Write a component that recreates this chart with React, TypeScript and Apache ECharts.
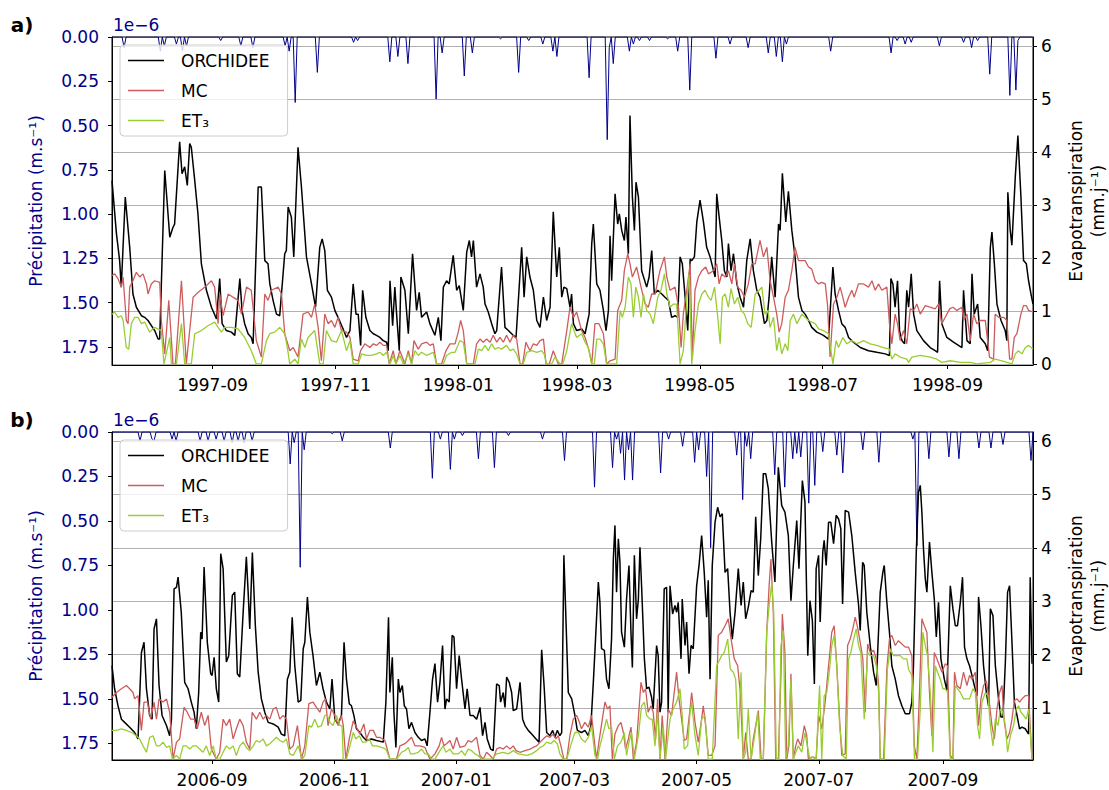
import React, { useEffect, useRef } from 'react';
import * as echarts from 'echarts';

const DAY = 86400000;
const FONT = 'DejaVu Sans';

// Panel a) 1997-1998 ; x = days after start
const startA = '1997-07-13';
const spanA = 457.5;
const tickLabelsA = ['1997-09', '1997-11', '1998-01', '1998-03', '1998-05', '1998-07', '1998-09'];
// Panel b) 2006-2007
const startB = '2006-07-13';
const spanB = 460;
const tickLabelsB = ['2006-09', '2006-11', '2007-01', '2007-03', '2007-05', '2007-07', '2007-09'];

const leftTicks = [0, 0.25, 0.5, 0.75, 1.0, 1.25, 1.5, 1.75];
const rightTicksA = [0, 1, 2, 3, 4, 5, 6];
const rightTicksB = [1, 2, 3, 4, 5, 6];

// Precipitation (x1e-6 m.s-1), [day, value] for rainy days
const precipA = [[5.8,0.06],[23.7,0.08],[26.2,0.05],[32,0.04],[34.5,0.08],[37.4,0.05],[53.5,0.02],[63.5,0.05],[70.1,0.06],[85.8,0.05],[88.3,0.08],[91.1,0.37],[102.4,0.20],[119.8,0.03],[122.3,0.02],[138.1,0.14],[142.2,0.11],[147.2,0.15],[161.2,0.35],[163.7,0.09],[175.3,0.22],[178.6,0.09],[192.7,0.01],[201.8,0.20],[206.8,0.02],[214.3,0.04],[219.2,0.08],[220.9,0.11],[237,0.23],[245.7,0.58],[247.4,0.06],[249.1,0.15],[256.5,0.08],[259,0.04],[261.5,0.02],[267.3,0.02],[276.4,0.01],[281.4,0.08],[287.2,0.30],[300.4,0.12],[307,0.04],[316.1,0.06],[326.1,0.09],[330.2,0.11],[332.7,0.14],[335.2,0.04],[357.1,0.08],[386.9,0.09],[389.5,0.02],[394,0.04],[396.8,0.03],[411.1,0.05],[423,0.03],[427.2,0.06],[429.6,0.02],[435.9,0.21],[445.9,0.33],[449,0.30],[450.3,0.02]];

const orchideeA = [[0,3.46],[2.2,2.46],[3.8,1.95],[4.6,1.45],[6.6,3.15],[8.8,2.20],[10.4,1.32],[12.1,1.07],[14.6,0.91],[16.2,0.88],[17.9,0.82],[21.2,0.63],[22.9,0.47],[23.7,0.47],[26.2,3.65],[28.7,2.39],[30.3,2.58],[31.1,2.64],[33.6,4.19],[34.8,3.59],[36.1,3.72],[37.4,3.37],[38.6,4.16],[39.4,4.09],[41.1,3.46],[42.7,2.83],[44.4,1.89],[46.9,1.39],[49.4,1.07],[51.9,0.85],[53.5,1.61],[54.7,0.76],[56.8,0.63],[59.3,0.60],[61.0,0.54],[63.5,1.61],[64.6,1.01],[65.9,0.76],[67.6,0.57],[69.2,0.50],[70.1,0.38],[72.6,3.34],[74.2,3.34],[75.9,1.95],[77.5,1.89],[78.4,1.51],[80.0,1.20],[81.7,0.94],[83.3,0.91],[85.8,2.08],[86.6,2.14],[87.5,2.96],[89.1,2.77],[90.3,2.02],[92.4,4.09],[94.1,3.34],[96.6,2.02],[99.1,1.51],[101.1,1.07],[103.2,2.20],[104.4,2.36],[105.7,2.14],[107.0,1.39],[109.0,1.26],[110.7,1.01],[112.3,0.88],[114.8,0.66],
[116.5,0.50],[118.2,0.63],[119.8,1.51],[121.2,0.94],[122.3,0.94],[123.5,0.35],[124.5,1.39],[126.1,0.88],[128.1,0.63],[129.8,0.57],[131.4,0.54],[133.1,0.50],[134.7,0.44],[136.4,0.41],[137.2,0.25],[138.1,1.57],[139.4,0.72],[140.5,1.45],[141.7,0.76],[142.7,0.25],[143.5,1.64],[145.5,1.39],[147.2,0.57],[149.3,2.08],[151.3,1.01],[152.6,1.35],[153.8,0.88],[156.3,0.98],[157.9,0.76],[160.4,0.54],[162.1,0.88],[163.4,0.44],[164.6,1.45],[166.2,1.57],[167.5,1.51],[169.5,2.05],[171.2,1.39],[172.5,1.48],[174.5,1.01],[176.2,2.11],[177.5,2.33],[178.6,2.02],[179.5,2.33],[181.1,1.45],[182.8,1.70],[184.4,1.45],[185.3,1.13],[186.9,0.98],[188.6,0.76],[190.2,0.57],[191.1,0.63],[193.5,1.83],[195.2,0.69],[196.9,0.63],[199.3,0.54],[200.7,0.50],[203.5,2.20],[204.7,1.26],[206.0,2.02],[207.6,1.64],[209.3,1.39],[211.0,0.82],[212.6,0.69],[214.3,1.26],[215.9,0.82],[217.6,1.07],[219.2,2.87],[220.9,1.64],[222.2,2.20],[223.4,1.26],[224.5,1.45],[225.9,1.42],[227.5,1.07],[228.3,1.32],[229.2,0.76],[230.8,0.63],
[233.3,0.66],[235.0,0.57],[237.0,0.94],[238.3,2.27],[239.1,2.64],[240.8,1.51],[242.4,1.39],[244.1,1.01],[245.4,0.63],[246.6,1.01],[247.4,2.42],[248.2,1.57],[249.9,3.21],[251.2,2.64],[252.0,2.83],[253.2,2.52],[254.5,2.33],[255.3,2.77],[256.5,2.08],[257.3,4.69],[258.5,3.15],[259.5,2.52],[260.3,3.43],[261.5,3.15],[263.1,1.76],[265.6,1.45],[266.8,1.64],[268.1,2.14],[269.4,1.32],[271.1,1.39],[273.1,1.32],[274.7,1.26],[276.4,1.20],[278.0,0.88],[279.7,0.91],[281.0,0.88],[282.2,2.02],[283.3,1.89],[284.7,1.26],[286.0,0.63],[287.2,1.98],[288.0,1.95],[289.3,2.02],[290.5,2.68],[292.1,3.09],[293.8,2.68],[295.4,2.20],[297.1,2.02],[298.8,1.76],[299.6,1.64],[300.4,3.21],[301.6,2.77],[302.9,2.33],[304.2,1.76],[305.4,1.64],[306.2,2.27],[307.5,1.76],[308.7,2.08],[310.4,1.51],[312.0,1.26],[313.7,1.07],[315.3,1.95],[317.0,2.36],[318.6,1.76],[320.3,1.39],[321.9,1.26],[324.1,0.76],[325.3,0.82],[326.4,1.26],[327.7,2.02],[329.4,1.26],[331.1,2.64],[331.9,2.52],[333.0,3.60],[334.7,2.68],[336.0,3.26],[337.7,2.52],[339.3,2.02],[341.0,1.26],[342.7,1.01],[344.3,0.94],[346.0,0.82],[347.6,0.69],
[350.1,0.60],[353.4,0.54],[355.9,0.47],[358.1,1.83],[359.2,1.32],[360.9,1.01],[362.5,0.76],[364.2,0.69],[365.9,0.50],[368.3,0.41],[371.7,0.31],[375.8,0.25],[379.9,0.22],[384.1,0.19],[386.2,0.16],[386.9,1.61],[387.9,1.51],[389.0,1.07],[390.2,1.57],[391.2,0.63],[392.4,0.44],[393.7,0.38],[394.8,1.39],[395.7,1.07],[397.0,1.70],[398.2,0.94],[399.8,0.63],[403.1,0.44],[406.4,0.31],[408.9,0.25],[410.1,0.22],[411.1,1.57],[412.2,0.76],[414.7,0.50],[418.0,0.41],[422.2,0.31],[423.0,1.39],[423.8,0.94],[424.7,0.44],[426.3,0.38],[427.2,1.70],[428.3,0.94],[430.0,1.13],[431.3,0.50],[433.8,0.38],[435.0,0.25],[436.3,2.20],[437.1,2.49],[438.3,1.89],[439.6,1.13],[441.6,0.82],[443.7,0.63],[444.5,0.44],[445.0,3.24],[446.2,2.52],[447.0,2.24],[448.7,3.53],[450.0,4.31],[451.5,3.15],[452.8,1.95],[454.2,1.89],[455.3,1.57],[456.5,1.32],[457.5,1.13]];

const mcA = [[0,1.67],[1.3,1.70],[3.0,1.61],[4.6,1.45],[5.5,1.64],[7.1,0.82],[8.0,0.76],[8.8,1.45],[10.4,1.57],[12.1,1.73],[13.8,1.64],[15.4,1.70],[17.1,1.51],[17.9,1.32],[19.5,1.51],[21.2,1.57],[23.7,1.54],[24.5,0.82],[26.2,0.19],[28.2,1.20],[30.3,0],[31.5,0],[34.5,1.57],[36.9,0],[39.1,0.82],[40.3,1.26],[42.7,1.35],[46.1,1.45],[49.4,1.57],[51.0,1.45],[52.7,0.76],[53.5,1.32],[55.2,0.91],[57.7,1.32],[60.1,1.26],[62.6,1.20],[64.3,0.94],[66.8,1.45],[69.2,1.39],[71.7,0.44],[74.2,0.13],[75.9,1.32],[77.5,1.20],[79.2,1.39],[82.5,1.45],[84.2,1.32],[85.8,0.57],[88.3,0.25],[90.0,0.31],[92.4,0.13],[94.9,0.94],[97.4,0.98],[99.1,0.88],[100.7,1.13],[102.4,0.69],[104.0,0.06],[105.7,0.94],[107.4,0.76],[109.0,0.82],[110.7,0.69],[112.3,0.88],[114.0,0.63],
[116.5,0.60],[118.2,0.50],[119.8,0.09],[122.3,0.06],[123.5,0.25],[125.6,0.38],[128.1,0.31],[129.8,0.38],[131.4,0.35],[133.1,0.41],[134.7,0.35],[136.4,0.35],[137.7,0],[139.7,0.25],[141.0,0],[143.0,0.25],[145.5,0],[147.2,0.25],[148.8,0],[150.0,0.44],[152.1,0.28],[153.8,0.38],[156.3,0.41],[157.9,0.35],[159.6,0.38],[161.2,0],[163.7,0],[165.9,0.25],[167.9,0.38],[170.4,0.38],[172.0,0.60],[173.2,0.82],[174.5,0.63],[176.2,0],[179.5,0],[181.1,0.38],[182.8,0.47],[184.4,0.41],[186.1,0.47],[187.8,0.41],[189.4,0.54],[191.1,0.41],[192.7,0.50],[194.4,0.41],[196.0,0.54],[197.7,0.41],[199.3,0.54],[201.0,0.47],[202.7,0],[204.0,0],[205.6,0.41],[207.6,0.25],[209.3,0.38],[211.0,0.35],[212.6,0.44],[214.3,0.47],[215.6,0],[217.2,0],[219.2,0.25],[221.7,0],[223.4,0],[225.9,0.63],[227.5,1.07],[229.2,0.88],[230.8,0.98],
[233.3,0.63],[235.0,0.50],[237.0,0.25],[238.3,0],[239.9,0.76],[241.9,0.76],[244.1,0.57],[245.7,0],[247.4,0.06],[249.9,0.09],[251.2,1.01],[253.2,1.20],[254.5,1.76],[256.2,2.08],[257.3,1.89],[258.5,1.64],[260.6,1.83],[262.8,1.45],[264.8,1.13],[266.4,1.07],[268.1,1.32],[269.8,1.32],[272.2,1.76],[274.4,2.02],[275.6,1.64],[277.2,1.39],[279.7,1.45],[281.4,1.07],[282.7,0.31],[283.8,0.94],[285.5,1.39],[287.2,1.89],[288.3,0.13],[289.6,1.39],[291.3,1.64],[293.0,1.76],[294.9,1.83],[296.3,1.70],[298.8,1.76],[300.4,1.89],[301.6,1.51],[302.9,1.70],[304.6,1.64],[306.2,1.76],[307.9,1.51],[309.2,1.89],[310.8,1.45],[312.5,1.39],[314.2,1.26],[316.1,1.51],[317.8,1.89],[319.5,1.89],[321.9,2.33],[323.6,2.02],[325.3,2.20],[326.9,1.57],[328.6,1.26],[330.2,0.94],[331.4,0.60],[332.7,0.76],[334.4,1.26],[336.0,1.39],[337.7,1.76],[339.3,2.20],[341.0,1.95],[344.3,1.95],[346.0,1.83],[347.6,1.79],
[349.3,1.57],[351.0,1.51],[352.6,1.54],[354.3,1.51],[355.4,1.13],[356.7,0.13],[358.4,1.13],[360.1,1.26],[361.7,1.45],[363.0,1.26],[364.2,1.07],[365.9,1.26],[367.5,1.39],[368.7,1.26],[370.8,1.51],[373.3,1.51],[375.8,1.45],[377.5,1.57],[379.1,1.39],[380.8,1.51],[382.4,1.39],[384.9,1.45],[386.2,0.76],[387.4,0.38],[389.0,0.94],[390.2,0.76],[391.5,0.44],[393.2,0.63],[394.8,0.38],[396.5,1.04],[398.2,1.01],[399.8,1.13],[401.5,0.94],[404.0,1.10],[406.4,1.07],[408.9,1.04],[410.6,1.13],[412.2,0.76],[413.9,0.88],[416.1,1.04],[417.7,1.07],[419.7,1.01],[422.2,1.07],[423.0,0.82],[424.7,0.94],[426.3,0.44],[428.0,0.94],[429.6,0.76],[431.3,0.82],[433.8,0.82],[435.9,0.13],[437.9,0.09],[438.7,0.94],[440.4,0.88],[442.9,0.88],[444.5,0.82],[445.9,0.09],[447.0,0.09],[448.2,0.50],[449.5,0.57],[451.5,0.94],[452.8,1.10],[454.2,1.10],[455.3,1.01],[457.5,0.98]];

const et3A = [[0,0.94],[1.3,0.98],[3.0,0.88],[4.6,0.91],[5.5,0.82],[7.1,0.31],[8.3,0.28],[9.6,0.76],[11.3,0.88],[12.9,0.88],[14.6,0.76],[16.2,0.79],[17.9,0.66],[18.7,0.60],[21.2,0.69],[24.5,0.63],[25.8,0],[28.7,0.50],[29.5,0],[32.0,0],[34.5,0.76],[36.1,0],[39.4,0],[41.1,0.57],[44.4,0.63],[47.7,0.72],[51.0,0.79],[52.7,0.69],[54.3,0.60],[56.0,0.69],[59.3,0.69],[62.6,0.66],[65.9,0.50],[69.2,0.25],[71.7,0],[74.2,0],[76.7,0.44],[78.4,0.57],[80.8,0.60],[83.3,0.69],[85.8,0.57],[87.1,0.31],[88.3,0],[90.8,0.09],[92.4,0],[94.1,0.47],[95.8,0.31],[97.4,0.50],[100.7,0.63],[103.2,0],[104.9,0],[106.5,0.63],[109.0,0.44],[111.5,0.41],[114.0,0.63],
[116.5,0.25],[118.2,0.44],[119.8,0],[122.3,0],[124.0,0.19],[126.5,0.16],[128.9,0.16],[131.4,0.19],[133.1,0.22],[134.7,0.16],[136.4,0.22],[138.1,0],[139.7,0.16],[141.0,0],[143.0,0.16],[144.7,0],[147.2,0.19],[148.8,0],[150.5,0.25],[152.1,0.16],[153.8,0.22],[156.3,0.16],[157.9,0.19],[159.6,0.22],[161.2,0],[164.6,0],[166.2,0.16],[168.7,0.22],[170.4,0.22],[172.8,0.44],[174.5,0.41],[176.2,0],[180.3,0],[182.0,0.28],[183.6,0.25],[185.3,0.35],[186.9,0.25],[188.6,0.38],[190.2,0.28],[191.9,0.31],[193.5,0.28],[196.0,0.35],[197.7,0.25],[199.3,0.28],[201.0,0.19],[202.7,0],[204.3,0],[206.0,0.22],[208.5,0.25],[211.0,0.22],[213.4,0.25],[214.6,0.19],[215.9,0],[218.4,0],[220.1,0.13],[222.5,0],[223.9,0],[225.9,0.25],[228.3,0.76],[229.2,0.66],[230.8,0.50],
[233.3,0.57],[235.0,0.41],[236.6,0.31],[238.3,0],[239.6,0],[240.8,0.47],[242.4,0.47],[244.1,0.38],[245.7,0],[250.7,0],[252.4,1.01],[253.5,0.88],[254.9,1.07],[256.5,1.64],[257.8,1.51],[259.0,0.88],[260.2,1.45],[261.5,1.26],[262.8,0.88],[264.0,1.32],[265.6,1.01],[267.3,0.94],[268.9,0.76],[271.1,1.26],[272.7,1.39],[274.4,1.70],[275.6,1.32],[277.2,1.07],[278.9,1.13],[280.5,1.13],[282.2,0],[283.8,0.25],[285.5,1.20],[286.7,1.70],[288.0,0],[289.6,0.63],[291.3,1.13],[293.0,1.32],[294.6,1.39],[296.3,1.26],[297.6,1.20],[299.3,1.45],[300.9,0.88],[302.1,0.38],[303.2,1.26],[304.6,1.32],[306.2,1.07],[307.5,1.42],[309.2,1.13],[310.8,1.26],[312.5,1.01],[314.2,0.94],[315.8,0.76],[317.5,0.69],[319.5,1.32],[321.5,1.39],[322.8,1.45],[324.4,0.94],[325.8,1.01],[326.9,0.69],[328.6,0.88],[330.2,0.25],[331.4,0.50],[332.7,0.19],[334.4,0.38],[335.7,0.25],[336.9,0.82],[338.5,0.94],[340.2,0.76],[342.7,0.94],[344.3,0.88],[346.0,0.82],[347.6,0.79],
[349.3,0.76],[351.0,0.66],[353.4,0.63],[355.9,0.57],[358.1,0],[359.7,0.44],[360.9,0.31],[363.0,0.50],[365.0,0.38],[367.5,0.44],[370.0,0.38],[373.3,0.44],[376.6,0.38],[379.9,0.35],[383.2,0.31],[386.2,0.28],[387.4,0.09],[389.0,0.19],[391.5,0.13],[394.8,0.09],[395.7,0.03],[397.3,0.13],[401.5,0.16],[406.4,0.13],[409.8,0.09],[412.2,0.03],[416.4,0.06],[421.4,0.03],[426.3,0.03],[429.6,0],[436.3,0.03],[438.7,0.09],[442.1,0.06],[444.5,0.03],[447.0,0],[448.7,0.19],[450.3,0.25],[452.0,0.19],[453.7,0.31],[455.3,0.35],[457.5,0.28]];

const precipB = [[13.8,0.05],[19.7,0.04],[21.3,0.05],[29.7,0.04],[32.2,0.05],[43.8,0.05],[48,0.05],[52.1,0.04],[56.3,0.05],[59.6,0.06],[63,0.05],[66.3,0.06],[69.6,0.05],[88.8,0.18],[91.3,0.06],[93.8,0.76],[95.5,0.10],[109.6,0.01],[115.4,0.05],[138.8,0.09],[160.1,0.26],[163.8,0.04],[168.8,0.21],[170.8,0.04],[175.1,0.02],[182.9,0.15],[190.9,0.20],[197.9,0.02],[214.6,0.04],[225.9,0.16],[240.9,0.31],[249.5,0.20],[252,0.04],[253.7,0.12],[255.9,0.27],[257.9,0.10],[259.9,0.27],[273.7,0.23],[277.8,0.04],[284.8,0.08],[290.8,0.17],[292.8,0.10],[297,0.25],[298.7,0.65],[312,0.13],[314.8,0.38],[317,0.08],[318.7,0.15],[331.1,0.24],[335.8,0.31],[340.3,0.15],[342,0.12],[343.6,0.14],[347.8,0.40],[350.8,0.30],[354.5,0.11],[362,0.13],[364.9,0.23],[374.9,0.10],[382.9,0.17],[399.5,0.04],[401.7,0.64],[407.5,0.15],[417.5,0.14],[422.8,0.15],[432.8,0.09],[438.7,0.09],[445.3,0.07],[458.6,0.16]];

const orchideeB = [[0,1.79],[1.3,1.36],[3.0,1.04],[4.7,0.79],[6.3,0.73],[8.8,0.64],[11.3,0.54],[13.0,0.42],[14.7,2.04],[16.0,2.23],[17.2,1.36],[18.8,0.86],[20.0,0.79],[21.0,2.48],[22.2,2.67],[23.5,1.42],[25.0,0.86],[27.2,0.67],[28.8,0.48],[29.7,0.79],[31.0,3.23],[32.2,3.26],[33.0,3.45],[34.6,2.79],[36.3,1.48],[38.0,1.36],[39.6,1.11],[41.0,0.92],[42.1,0.61],[43.3,1.29],[44.3,2.42],[45.0,2.29],[46.0,3.64],[47.6,2.23],[49.3,1.64],[50.0,1.61],[51.0,1.95],[52.1,1.36],[53.3,1.11],[54.3,3.89],[55.5,3.61],[57.1,1.86],[58.3,1.98],[60.1,3.11],[61.3,3.17],[62.6,1.64],[63.8,1.58],[65.5,2.79],[67.1,3.83],[68.0,3.17],[68.8,2.48],[70.1,3.91],[71.6,2.54],[73.0,1.67],[74.6,1.17],[76.3,0.92],[78.0,0.73],[80.5,0.70],[83.0,0.64],[84.6,0.51],[86.3,0.48],[87.6,1.54],[88.8,1.67],[90.0,2.70],[91.3,1.79],[93.0,1.11],[94.3,1.14],[95.5,2.11],[96.3,2.23],[97.6,3.08],[98.8,2.42],[100.4,1.98],[102.1,1.42],[103.8,1.67],[105.4,1.36],[107.1,1.11],[108.8,0.98],[109.9,1.54],[111.3,0.79],[112.9,0.70],[114.6,0.86],[115.9,2.23],
[117.1,1.54],[118.5,1.08],[119.6,1.04],[120.8,0.86],[122.1,0.61],[123.8,0.54],[125.5,0.45],[127.1,0.39],[129.6,0.42],[132.1,0.39],[135.5,0.36],[136.8,1.11],[138.1,2.70],[138.8,1.29],[140.0,1.95],[140.8,0.92],[141.8,0.26],[143.0,1.54],[143.8,1.29],[145.0,1.42],[146.0,1.04],[147.1,0.98],[148.3,0.61],[149.6,0.73],[151.3,0.54],[153.0,0.45],[154.6,0.39],[156.3,0.42],[157.4,0.29],[158.8,0.92],[160.1,1.54],[161.3,1.83],[162.6,1.11],[163.8,1.48],[165.1,2.17],[166.3,0.98],[167.1,1.17],[168.4,1.11],[169.9,2.36],[170.8,2.33],[172.1,1.36],[173.4,1.98],[174.6,1.54],[176.3,0.98],[177.4,1.36],[178.8,0.86],[180.4,0.86],[182.1,0.79],[183.8,1.01],[185.1,0.48],[186.3,0.73],[187.4,0.42],[189.1,0.23],[190.4,0.20],[192.1,1.45],[193.4,1.42],[194.1,1.11],[195.4,1.29],[196.3,1.01],[197.1,1.58],[198.4,1.48],[199.6,1.29],[200.4,0.95],[202.1,0.98],[203.8,1.48],[205.1,0.79],[206.3,0.67],[207.9,0.58],[209.6,0.51],[211.8,0.42],[213.3,0.36],[214.6,2.09],[215.8,1.42],[217.1,0.54],[218.7,0.48],[220.1,0.58],[221.2,0.45],[222.4,0.58],[223.7,0.48],[224.6,0.54],[225.7,3.86],[227.9,1.29],[229.6,1.17],[231.2,0.86],[232.4,0.58],
[234.5,0.54],[236.2,0.58],[237.9,0.48],[239.2,0.67],[240.4,1.48],[241.5,2.29],[242.9,3.36],[243.7,2.98],[244.5,2.11],[245.9,2.08],[247.0,1.54],[248.2,1.36],[249.5,2.29],[250.4,3.79],[251.2,4.42],[252.0,3.17],[252.9,4.17],[253.7,3.73],[254.5,2.42],[255.9,2.14],[257.0,3.04],[258.2,3.67],[259.2,2.42],[259.9,1.76],[260.9,3.86],[262.0,2.67],[262.9,3.04],[263.7,4.01],[264.5,3.29],[265.9,1.92],[267.0,1.36],[268.2,1.39],[269.5,1.20],[270.3,0.98],[272.0,2.17],[272.8,1.98],[273.7,0.92],[274.5,1.11],[275.8,3.23],[277.0,3.26],[277.8,0.92],[278.7,3.29],[280.0,2.76],[281.2,2.92],[282.0,2.79],[282.8,2.98],[284.2,1.92],[284.8,3.04],[286.2,2.17],[287.0,2.61],[288.2,1.64],[289.2,2.17],[290.3,2.11],[292.0,3.29],[293.2,3.67],[294.5,4.23],[295.8,3.54],[297.0,2.70],[297.8,3.39],[298.7,1.54],[299.8,3.67],[301.2,4.48],[302.5,4.76],[303.7,4.58],[304.8,4.64],[306.2,3.54],[307.5,3.61],[308.7,2.79],[309.8,2.29],[311.2,2.79],[312.8,3.61],[314.2,2.92],[315.3,3.36],[316.5,2.67],[317.8,2.89],[319.2,3.20],[320.3,3.17],[321.5,4.58],[322.8,3.48],[324.0,4.17],[325.3,5.39],[326.5,5.39],[327.8,5.11],[329.5,4.11],[331.1,3.36],[332.8,5.51],[334.5,4.79],[336.1,4.67],[337.8,4.23],[339.1,3.01],[340.3,3.67],[342.0,4.51],[343.1,3.61],[344.8,5.26],[346.1,4.86],[347.5,1.98],[348.6,3.01],[349.8,2.64],[350.8,1.45],
[351.7,3.61],[352.9,3.86],[353.7,2.61],[355.0,3.92],[355.7,4.14],[356.7,3.67],[357.9,4.48],[359.0,4.48],[360.4,4.08],[361.7,4.61],[362.9,4.54],[364.0,4.36],[364.9,2.95],[366.2,4.70],[367.9,4.67],[369.5,4.23],[371.2,3.54],[372.9,2.92],[373.7,2.45],[374.9,3.73],[375.7,3.67],[377.0,2.79],[378.7,2.17],[380.4,1.67],[381.7,1.42],[383.7,3.17],[385.0,3.54],[385.7,3.67],[387.0,2.98],[388.3,2.42],[389.5,1.79],[391.2,1.54],[392.8,1.23],[394.5,1.04],[396.2,0.89],[398.3,0.89],[399.5,1.11],[400.3,1.79],[401.7,3.92],[402.8,5.04],[403.7,5.17],[404.5,4.67],[405.3,3.98],[406.2,3.42],[407.0,3.17],[408.3,4.11],[409.5,3.54],[410.7,3.04],[411.7,2.33],[412.8,2.98],[414.0,1.92],[415.7,1.54],[417.0,1.33],[418.7,3.29],[420.0,2.86],[421.2,2.54],[422.3,2.54],[423.7,2.98],[424.8,3.45],[425.8,2.14],[427.0,1.92],[428.3,1.79],[429.5,1.61],[430.7,1.42],[432.0,1.23],[432.8,3.08],[434.0,2.54],[435.3,1.79],[436.7,1.29],[437.8,1.04],[438.7,2.86],[440.0,2.73],[441.2,1.79],[442.8,1.17],[444.0,0.83],[445.0,0.83],[446.2,1.86],[447.3,3.17],[448.3,3.29],[449.5,2.23],[450.7,1.11],[452.0,0.86],[453.3,0.61],[454.5,0.64],[456.1,0.61],[457.8,0.51],[458.6,3.45],[459.5,1.83]];

const mcB = [[0,1.20],[2.2,1.29],[4.7,1.36],[7.2,1.42],[8.8,1.36],[10.5,1.29],[11.3,1.17],[13.0,1.23],[14.7,0.58],[16.0,1.11],[17.7,1.11],[19.3,0.79],[21.0,1.11],[22.2,0.79],[23.5,1.17],[25.5,1.11],[27.2,1.17],[28.8,0.92],[30.5,0.04],[32.2,0.36],[33.8,0.42],[36.0,1.01],[37.6,0.92],[39.3,0.79],[41.0,0.79],[42.6,0.61],[44.6,0.92],[46.3,0.67],[48.0,0.86],[49.6,0.23],[52.1,0.04],[53.8,0.17],[55.5,0.79],[57.1,0.67],[58.8,0.79],[60.5,0.42],[62.1,0.61],[63.8,0.79],[65.5,0.67],[67.1,0.36],[68.8,0.23],[70.0,0.92],[72.1,0.79],[73.8,0.92],[75.5,0.79],[77.1,0.86],[78.8,0.79],[80.5,0.98],[82.1,1.01],[83.8,0.79],[85.5,0.86],[87.1,0.79],[88.8,0.23],[90.5,0.29],[92.6,0.67],[94.6,0.04],[96.3,0.29],[98.3,1.08],[100.4,1.11],[102.1,1.01],[103.8,0.92],[105.4,1.11],[106.6,1.17],[107.9,0.67],[109.6,0.98],[111.3,0.86],[112.9,0.67],[114.6,0.86],
[115.5,0.67],[116.8,0.04],[118.5,0.42],[120.5,0.76],[122.1,0.64],[123.8,0.51],[125.8,0.70],[127.1,0.42],[128.8,0.58],[130.5,0.58],[132.1,0.45],[133.8,0.45],[136.3,0.39],[138.8,0.04],[142.1,0.04],[143.8,0.29],[146.3,0.33],[148.0,0.39],[149.6,0.45],[151.3,0.29],[153.8,0.29],[156.3,0.26],[158.8,0.04],[161.3,0.14],[163.4,0.29],[164.6,0.45],[165.8,0.29],[167.1,0.33],[168.8,0.39],[170.4,0.23],[172.1,0.45],[173.8,0.26],[176.3,0.29],[177.9,0.39],[179.6,0.36],[182.1,0.45],[183.8,0.11],[185.4,0.04],[187.1,0.17],[188.8,0.11],[190.4,0.04],[192.1,0.23],[193.8,0.26],[195.4,0.23],[197.1,0.29],[198.8,0.23],[200.4,0.29],[201.8,0.20],[203.8,0.17],[206.3,0.20],[208.8,0.23],[210.4,0.26],[212.1,0.29],[213.8,0.36],[215.4,0.42],[217.1,0.48],[218.7,0.45],[220.4,0.51],[221.7,0.42],[222.9,0.48],[224.2,0.29],[225.7,0.04],[227.1,0.04],[228.7,0.48],[230.4,0.79],[232.1,0.86],
[232.9,0.79],[234.5,0.61],[236.2,0.73],[237.9,0.64],[239.5,0.86],[241.2,0.29],[242.0,0.04],[243.2,0.36],[244.9,0.79],[246.2,1.11],[247.5,0.98],[248.7,1.04],[249.9,0.04],[251.2,0.51],[252.9,0.67],[254.2,0.73],[255.4,0.54],[256.5,0.23],[257.9,0.42],[259.2,0.64],[260.4,0.04],[262.0,0.36],[264.2,1.48],[265.4,1.29],[266.5,1.36],[267.8,0.92],[269.2,1.04],[270.3,0.92],[271.5,0.42],[272.5,1.17],[273.7,0.04],[274.8,0.86],[276.2,0.04],[277.8,0.98],[279.5,0.86],[280.8,1.29],[282.0,1.67],[283.2,1.17],[284.5,0.79],[285.8,0.39],[287.0,0.42],[288.7,0.98],[289.5,1.29],[291.2,0.73],[292.8,0.36],[294.5,0.79],[295.3,1.04],[296.5,0.67],[297.8,0.11],[299.5,0.11],[301.2,0.29],[302.8,2.36],[304.5,2.42],[306.2,2.54],[307.8,2.67],[309.2,2.29],[310.8,1.92],[312.5,1.79],[313.8,1.29],[315.3,0.04],[316.5,0.54],[317.8,0.04],[319.2,0.04],[320.3,0.42],[321.5,0.67],[322.8,0.95],[324.2,0.04],[325.3,0.04],[327.0,2.42],[328.2,3.29],[329.1,3.79],[330.3,2.79],[331.5,0.04],[332.8,0.04],[334.1,1.61],[334.8,2.76],[336.1,2.04],[337.0,0.04],[338.1,0.29],[339.1,1.64],[340.3,0.04],[341.5,0.29],[342.5,0.42],[344.1,0.29],[345.8,0.67],[347.0,0.48],[347.8,0.04],[349.5,0.08],
[350.4,0.08],[351.7,0.04],[352.9,0.86],[354.5,0.61],[356.2,1.11],[357.9,1.79],[359.5,2.42],[360.7,2.54],[362.0,1.79],[363.4,0.79],[364.5,0.11],[366.2,0.14],[367.4,2.17],[368.7,2.29],[370.0,2.48],[371.2,2.70],[372.4,2.51],[373.7,2.23],[375.0,1.92],[376.2,0.92],[377.4,2.20],[378.7,2.04],[380.4,2.08],[381.7,1.92],[382.9,1.42],[383.7,0.04],[385.4,0.04],[387.0,1.73],[388.3,2.29],[389.5,2.36],[391.2,2.17],[392.8,2.26],[394.5,2.20],[396.2,2.14],[397.8,2.14],[399.5,1.98],[400.7,0.29],[402.0,0.04],[403.3,1.29],[404.5,2.67],[405.7,2.54],[407.0,2.42],[408.3,1.29],[409.5,0.48],[410.7,2.04],[412.0,1.92],[413.3,1.79],[414.5,1.67],[416.2,1.83],[417.3,1.79],[418.7,0.11],[420.0,0.04],[420.8,1.67],[422.0,1.42],[423.7,1.36],[425.3,1.67],[427.0,1.42],[428.3,1.61],[429.5,1.54],[431.2,1.67],[432.8,0.67],[434.0,1.17],[435.3,1.42],[436.7,1.51],[437.8,1.23],[439.5,0.67],[440.7,0.42],[442.0,0.98],[443.3,1.29],[444.5,1.42],[445.7,0.73],[447.0,0.42],[448.3,0.54],[449.5,0.79],[450.7,1.14],[452.0,1.17],[453.3,1.11],[454.5,1.17],[456.1,1.23],[457.8,1.23],[459.5,0.04]];

const et3B = [[0,0.58],[2.2,0.58],[4.7,0.61],[7.2,0.58],[9.7,0.54],[12.2,0.48],[13.8,0.42],[15.5,0.29],[17.2,0.17],[18.8,0.45],[20.5,0.48],[22.2,0.29],[23.8,0.29],[25.5,0.36],[27.2,0.26],[28.8,0.29],[30.2,0.04],[32.2,0.11],[33.8,0.04],[35.5,0.29],[37.1,0.29],[38.8,0.23],[40.5,0.29],[42.1,0.29],[43.8,0.23],[45.5,0.17],[47.1,0.29],[48.8,0.11],[50.5,0.29],[52.1,0.04],[53.8,0.04],[55.5,0.17],[57.1,0.29],[58.8,0.23],[60.5,0.29],[62.1,0.11],[63.8,0.29],[65.5,0.36],[67.1,0.26],[68.8,0.20],[70.5,0.29],[72.1,0.39],[73.8,0.36],[75.5,0.42],[77.1,0.29],[78.8,0.33],[80.5,0.39],[82.1,0.45],[83.8,0.39],[85.5,0.36],[87.1,0.42],[88.8,0.14],[90.5,0.11],[93.0,0.29],[95.0,0.04],[96.3,0.11],[98.3,0.67],[99.6,0.64],[101.3,0.79],[102.9,0.64],[104.6,0.67],[106.3,0.86],[107.6,0.86],[108.8,0.73],[110.4,0.67],[112.1,0.86],[113.8,0.67],[114.9,0.67],
[115.5,0.04],[117.1,0.04],[118.8,0.29],[120.5,0.54],[121.8,0.42],[123.5,0.48],[125.1,0.36],[126.8,0.36],[128.5,0.42],[130.1,0.29],[132.1,0.29],[134.6,0.26],[136.8,0.23],[138.8,0.04],[142.1,0.04],[144.6,0.17],[146.3,0.20],[148.0,0.26],[149.1,0.14],[150.8,0.14],[153.0,0.17],[154.6,0.23],[156.3,0.14],[158.0,0.14],[159.6,0.04],[161.3,0.04],[163.8,0.20],[165.4,0.29],[166.8,0.17],[168.8,0.23],[170.4,0.14],[172.9,0.14],[174.6,0.20],[176.3,0.11],[177.9,0.23],[179.6,0.20],[181.3,0.14],[182.9,0.11],[184.6,0.04],[189.6,0.04],[192.1,0.14],[195.4,0.17],[197.9,0.14],[200.4,0.20],[202.9,0.14],[207.1,0.11],[209.6,0.14],[212.1,0.20],[213.8,0.26],[215.4,0.29],[217.1,0.36],[219.1,0.33],[220.8,0.39],[222.4,0.33],[223.7,0.14],[225.4,0.04],[227.1,0.04],[229.6,0.36],[231.2,0.54],[232.9,0.54],
[234.5,0.42],[236.2,0.36],[237.9,0.45],[239.5,0.67],[241.2,0.11],[242.5,0.04],[243.7,0.29],[245.4,0.54],[247.0,0.79],[248.2,0.61],[249.5,0.64],[250.9,0.04],[252.5,0.29],[254.2,0.36],[255.9,0.54],[257.0,0.11],[258.2,0.36],[259.5,0.54],[260.9,0.04],[262.9,0.48],[264.5,1.04],[265.9,1.11],[267.0,0.86],[268.7,0.79],[269.8,0.79],[271.2,0.29],[272.5,0.92],[273.7,0.04],[275.3,0.67],[276.5,0.04],[278.7,0.79],[280.3,0.98],[282.0,1.11],[283.7,1.36],[284.8,0.86],[285.8,0.23],[287.5,0.29],[288.7,0.92],[289.5,1.11],[291.2,0.48],[292.8,0.11],[294.5,0.79],[296.2,0.86],[297.8,0.04],[299.8,0.04],[302.0,1.79],[303.7,1.92],[304.5,1.98],[305.8,2.04],[307.5,2.29],[308.8,1.73],[310.3,1.67],[311.5,1.54],[312.8,0.42],[314.2,1.67],[315.3,0.04],[316.5,0.17],[317.8,0.98],[319.2,0.04],[321.2,0.54],[322.5,0.92],[323.8,0.04],[325.3,0.04],[327.0,2.42],[328.2,2.92],[329.5,3.33],[330.5,2.79],[331.8,0.04],[333.1,0.04],[334.1,2.17],[335.3,2.45],[336.5,0.04],[337.8,0.29],[339.1,1.54],[340.3,0.04],[341.5,0.17],[342.8,0.29],[344.5,0.17],[346.1,0.54],[347.3,0.29],[348.6,0.04],[349.8,0.08],
[351.7,0.04],[353.4,1.42],[354.5,0.04],[355.7,1.23],[357.0,1.29],[358.4,1.73],[359.5,2.17],[360.7,2.36],[362.0,1.79],[363.4,0.67],[365.0,0.11],[366.7,0.04],[367.9,1.92],[369.0,2.04],[370.4,2.29],[371.7,2.48],[372.9,2.17],[374.0,2.04],[375.7,0.79],[377.4,2.04],[378.7,1.98],[380.4,1.98],[381.7,1.79],[382.9,1.29],[383.7,0.04],[385.7,0.04],[387.3,1.73],[388.7,2.11],[390.3,1.98],[392.0,1.98],[393.7,1.98],[395.3,1.92],[397.0,1.92],[397.8,1.73],[399.5,1.61],[400.8,0.04],[402.3,0.04],[403.7,0.98],[405.0,2.42],[406.2,2.17],[407.3,1.98],[408.7,1.29],[410.0,0.17],[411.2,1.79],[412.3,1.67],[413.7,1.54],[415.0,1.36],[416.2,1.36],[417.3,1.29],[418.7,0.04],[420.0,0.04],[421.2,1.42],[422.3,1.36],[423.7,1.29],[425.3,1.17],[426.7,1.17],[428.3,1.17],[430.0,1.36],[431.2,1.29],[432.3,0.67],[433.3,0.42],[434.5,1.11],[436.2,1.29],[437.5,1.23],[438.7,0.67],[440.0,0.29],[441.2,0.79],[442.5,0.67],[443.7,0.98],[445.0,0.92],[446.2,0.67],[447.3,0.17],[448.7,0.48],[450.3,0.67],[451.6,0.98],[452.8,1.04],[454.0,0.92],[455.3,0.86],[456.6,0.79],[457.8,0.98],[459.5,0.04]];

const NAMES = ['ORCHIDEE', 'MC', 'ET₃'];
const COLORS = { orchidee: '#000000', mc: '#cd5c5c', et3: '#9acd32', precip: '#00008b' };

function ts(dateStr: string) {
  return Date.parse(dateStr + 'T00:00:00Z');
}

function toTime(start: string, pts: number[][]) {
  const s = ts(start);
  return pts.map(([d, v]) => [s + d * DAY, v]);
}

function dailyPrecip(start: string, spikes: number[][], span: number) {
  const n = Math.floor(span);
  const vals: number[] = new Array(n + 1).fill(0);
  spikes.forEach(([d, v]) => {
    const i = Math.round(d);
    if (i >= 0 && i <= n) vals[i] = Math.max(vals[i], v);
  });
  return toTime(start, vals.map((v, i) => [i, v]));
}

function buildPanel(idx: number, top: number, start: string, span: number, tickLabels: string[], rightTicks: number[], rightMin: number, leftMax: number, precip: number[][], orch: number[][], mc: number[][], et3: number[][]) {
  const xMin = ts(start);
  const xMax = xMin + span * DAY;
  const xTicks = tickLabels.map((l) => ts(l + '-01'));
  const grid = { left: 112, top, width: 921, height: 328, show: true, borderColor: '#000', borderWidth: 1, backgroundColor: 'transparent' };
  const xAxis = {
    type: 'value', gridIndex: idx, min: xMin, max: xMax, scale: true,
    axisLine: { show: true, onZero: false, lineStyle: { color: '#000', width: 1 } },
    axisTick: { show: true, length: 4, customValues: xTicks, lineStyle: { color: '#000' } },
    axisLabel: {
      customValues: xTicks, margin: 11, color: '#000', fontSize: 17, fontFamily: FONT, hideOverlap: false,
      formatter: (v: number) => {
        const i = xTicks.findIndex((t) => Math.abs(t - v) < DAY / 2);
        return i >= 0 ? tickLabels[i] : '';
      },
    },
    splitLine: { show: false },
  };
  const yLeft = {
    type: 'value', gridIndex: idx, position: 'left', inverse: true, min: 0, max: leftMax,
    axisLine: { show: true, onZero: false, lineStyle: { color: '#000', width: 1 } },
    axisTick: { show: true, length: 4, customValues: leftTicks, lineStyle: { color: '#000' } },
    axisLabel: { customValues: leftTicks, margin: 13, color: COLORS.precip, fontSize: 17, fontFamily: FONT, formatter: (v: number) => v.toFixed(2) },
    splitLine: { show: false },
  };
  const yRight = {
    type: 'value', gridIndex: idx, position: 'right', min: rightMin, max: 6.17,
    axisLine: { show: true, onZero: false, lineStyle: { color: '#000', width: 1 } },
    axisTick: { show: true, length: 4, customValues: rightTicks, lineStyle: { color: '#000' } },
    axisLabel: { customValues: rightTicks, margin: 8, color: '#000', fontSize: 17, fontFamily: FONT, formatter: (v: number) => String(Math.round(v)) },
    splitLine: { show: true, lineStyle: { color: '#b0b0b0', width: 1 } },
  };
  const base = { type: 'line', xAxisIndex: idx, symbol: 'none', showSymbol: false, silent: true, clip: true };
  const series = [
    { ...base, name: 'precip' + idx, yAxisIndex: idx * 2, data: dailyPrecip(start, precip, span), lineStyle: { color: COLORS.precip, width: 1 }, itemStyle: { color: COLORS.precip } },
    { ...base, name: NAMES[0], yAxisIndex: idx * 2 + 1, data: toTime(start, orch), lineStyle: { color: COLORS.orchidee, width: 1.5 }, itemStyle: { color: COLORS.orchidee } },
    { ...base, name: NAMES[1], yAxisIndex: idx * 2 + 1, data: toTime(start, mc), lineStyle: { color: COLORS.mc, width: 1.3 }, itemStyle: { color: COLORS.mc } },
    { ...base, name: NAMES[2], yAxisIndex: idx * 2 + 1, data: toTime(start, et3), lineStyle: { color: COLORS.et3, width: 1.3 }, itemStyle: { color: COLORS.et3 } },
  ];
  const legend = {
    data: NAMES, orient: 'vertical', left: 120, top: top + 8,
    icon: 'rect', itemWidth: 36, itemHeight: 1.6, itemGap: 13,
    padding: [7, 18, 7, 8],
    backgroundColor: 'rgba(255,255,255,0.8)', borderColor: '#cccccc', borderWidth: 1, borderRadius: 4,
    textStyle: { color: '#000', fontSize: 17, fontFamily: FONT, padding: [0, 0, 0, 12] },
    itemStyle: { borderWidth: 0 },
    selectedMode: false,
  };
  const cy = top + 164;
  const graphic = [
    { type: 'text', x: 22, y: top - 12, style: { text: idx === 0 ? 'a)' : 'b)', fontSize: 20, fontWeight: 'bold', fontFamily: FONT, fill: '#000', align: 'center', verticalAlign: 'middle', textAlign: 'center', textVerticalAlign: 'middle' } },
    { type: 'text', x: 113, y: top - 12, style: { text: '1e\u22126', fontSize: 17, fontFamily: FONT, fill: COLORS.precip, align: 'left', verticalAlign: 'middle', textAlign: 'left', textVerticalAlign: 'middle' } },
    { type: 'text', x: 36, y: cy, rotation: Math.PI / 2, style: { text: 'Précipitation (m.s\u207B\u00B9)', fontSize: 17, fontFamily: FONT, fill: COLORS.precip, align: 'center', verticalAlign: 'middle', textAlign: 'center', textVerticalAlign: 'middle' } },
    { type: 'text', x: 1087, y: cy, rotation: Math.PI / 2, style: { text: 'Evapotranspiration\n(mm.j\u207B\u00B9)', fontSize: 17, lineHeight: 22, fontFamily: FONT, fill: '#000', align: 'center', verticalAlign: 'middle', textAlign: 'center', textVerticalAlign: 'middle' } },
  ];
  return { grid, xAxis, yAxes: [yLeft, yRight], series, legend, graphic };
}

export default function App() {
  const ref = useRef<HTMLDivElement>(null);
  useEffect(() => {
    if (!ref.current) return;
    const chart = echarts.init(ref.current, undefined, { renderer: 'svg' });
    const pa = buildPanel(0, 37, startA, spanA, tickLabelsA, rightTicksA, -0.02, 1.853, precipA, orchideeA, mcA, et3A);
    const pb = buildPanel(1, 432, startB, spanB, tickLabelsB, rightTicksB, 0.025, 1.843, precipB, orchideeB, mcB, et3B);
    chart.setOption({
      animation: false,
      backgroundColor: '#ffffff',
      textStyle: { fontFamily: FONT },
      grid: [pa.grid, pb.grid],
      xAxis: [pa.xAxis, pb.xAxis],
      yAxis: [...pa.yAxes, ...pb.yAxes],
      legend: [pa.legend, pb.legend],
      series: [...pa.series, ...pb.series],
      graphic: [...pa.graphic, ...pb.graphic],
    } as any);
    return () => chart.dispose();
  }, []);
  return <div ref={ref} style={{ position: 'fixed', left: 0, top: 0, width: 1109, height: 790 }} />;
}
